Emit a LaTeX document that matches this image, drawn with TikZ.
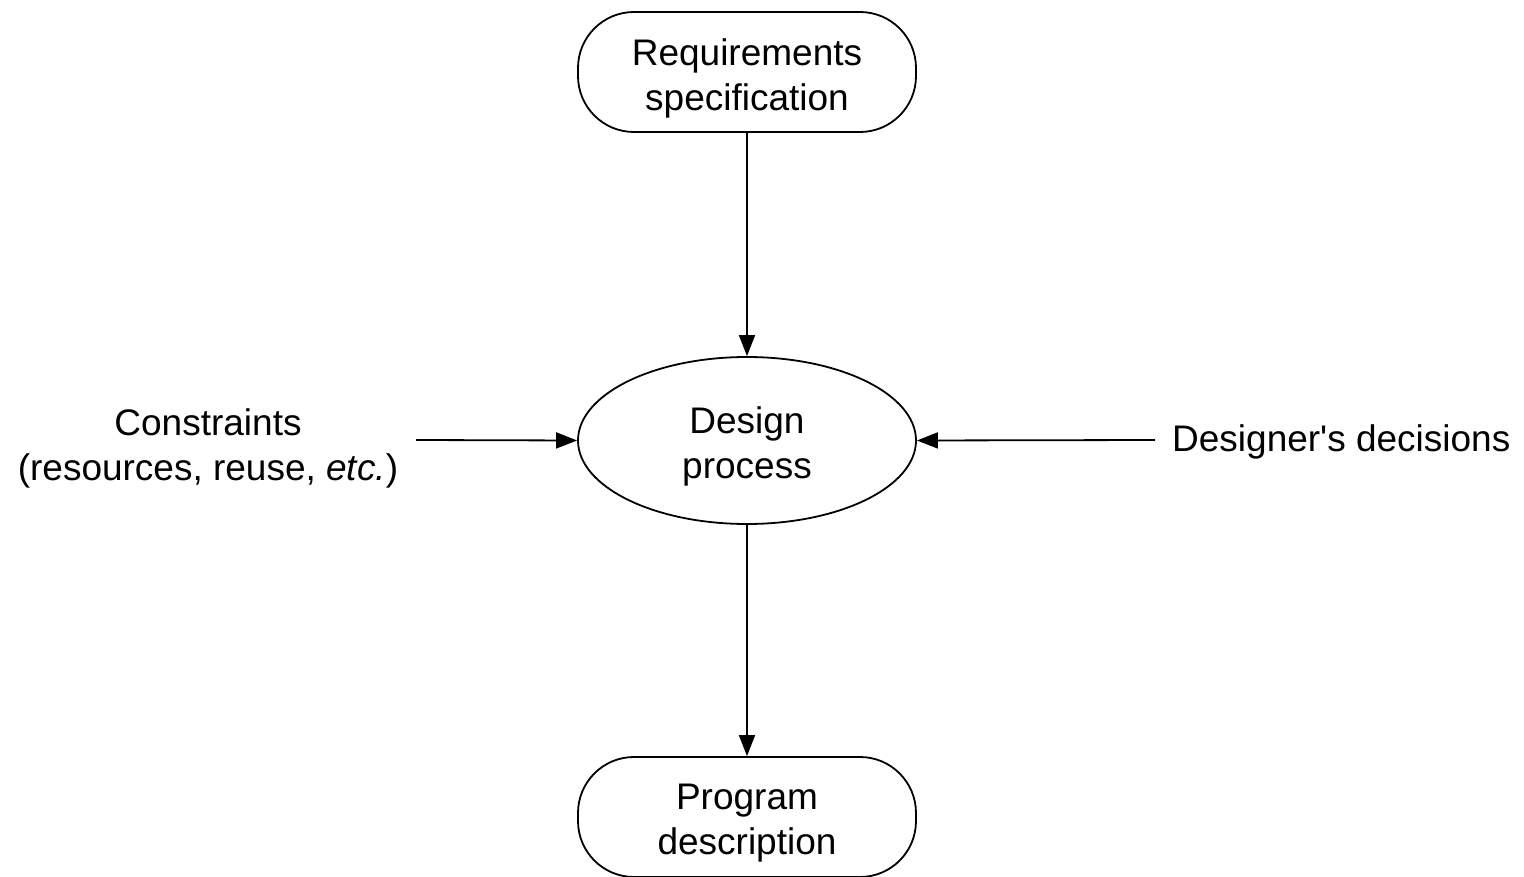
\documentclass[tikz,border=0pt]{standalone}
\usepackage{fontspec}
\setmainfont{Liberation Sans}
\usetikzlibrary{arrows.meta,shapes.geometric}

% shift a line of text down without changing its box
\newcommand{\lowline}[1]{\raisebox{-6pt}[\height][\depth]{#1}}

\begin{document}
\begin{tikzpicture}[x=1pt,y=-1pt,
  every node/.style={font=\fontsize{37}{45}\selectfont, align=center, inner sep=0pt},
  terminal/.style={draw, line width=1.8pt, rounded corners=56pt,
    minimum width=338pt, minimum height=120pt},
  process/.style={draw, ellipse, line width=1.8pt,
    minimum width=338pt, minimum height=167pt},
  flow/.style={line width=1.8pt, -{Triangle[length=21pt,width=16pt]}}]
  \useasboundingbox (0,0) rectangle (1524,877);

  \node[terminal] (req) at (747,72) {\lowline{Requirements}\\\lowline{specification}};
  \node[process] (design) at (747,440.5) {\lowline{Design}\\\lowline{process}};
  \node[terminal] (prog) at (747,817) {\lowline{Program}\\\lowline{description}};

  \node (cons) at (208,448) {Constraints\\(resources, reuse, \textit{etc.})};
  \node[anchor=west] (dec) at (1172,442) {Designer\textquotesingle s decisions};

  \coordinate (consEnd) at (416,440);
  \coordinate (decEnd) at (1155,440);

  \draw[flow] (req) -- (design);
  \draw[flow] (design) -- (prog);
  \draw[flow] (consEnd) -- (design.west);
  \draw[flow] (decEnd) -- (design.east);
\end{tikzpicture}
\end{document}
